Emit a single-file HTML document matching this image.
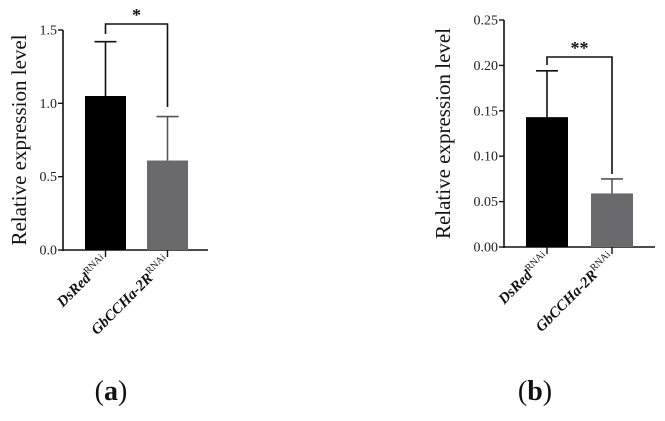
<!DOCTYPE html>
<html><head><meta charset="utf-8"><style>
html,body{margin:0;padding:0;background:#fff;width:665px;height:421px;overflow:hidden}
svg, svg text{font-family:"Liberation Serif","DejaVu Serif","Times New Roman",serif}
</style></head><body>
<svg id="chart" width="665" height="421" font-family="Liberation Serif, DejaVu Serif, serif"></svg>
<script>
const categories = ["DsRed", "GbCCHa-2R"];
const valuesA = [1.05, 0.61];
const errorsA = [1.42, 0.91];
const ticksA = [0, 0.5, 1.0, 1.5];
const tickLabelsA = ["0.0", "0.5", "1.0", "1.5"];
const valuesB = [0.143, 0.059];
const errorsB = [0.194, 0.075];
const ticksB = [0, 0.05, 0.10, 0.15, 0.20, 0.25];
const tickLabelsB = ["0.00", "0.05", "0.10", "0.15", "0.20", "0.25"];

const NS = "http://www.w3.org/2000/svg";
const svg = document.getElementById("chart");
const FF = "'Liberation Serif', 'DejaVu Serif', serif";
function mk(tag, attrs, parent){const e=document.createElementNS(NS,tag);for(const k in attrs)e.setAttribute(k,attrs[k]);if(tag==="text")e.setAttribute("style","font-family:"+FF);(parent||svg).appendChild(e);return e;}

function panel(cfg){
  const g = mk("g",{});
  
  
  const y = v => cfg.y0 - (v/cfg.max)*(cfg.y0-cfg.yTop);
  const ya = mk("line",{x1:cfg.ax,y1:y(cfg.max),x2:cfg.ax,y2:cfg.y0+1,stroke:"#111","stroke-width":1.6},g);
  
  
  const xa = mk("line",{x1:cfg.ax,y1:cfg.y0,x2:cfg.axEnd,y2:cfg.y0,stroke:"#111","stroke-width":1.6},g);
  
  
  cfg.ticks.forEach((t,i)=>{
    mk("line",{x1:cfg.ax-5,y1:y(t),x2:cfg.ax,y2:y(t),stroke:"#111","stroke-width":1.4},g);
    const tl = mk("text",{x:cfg.ax-6,y:y(t)+4.5,"text-anchor":"end","font-size":14,fill:"#222"},g);
    tl.textContent = cfg.tickLabels[i];
    
    
  });
  const yt = mk("text",{transform:`translate(${cfg.titleX},${(cfg.y0+cfg.yTop)/2+cfg.titleDy}) rotate(-90)`,"text-anchor":"middle","font-size":21,fill:"#111"},g);
  yt.textContent = "Relative expression level";
  
  
  const centers=[];
  cfg.values.forEach((v,i)=>{
    const x0 = cfg.barX[i], cx = x0+cfg.barW/2; centers.push(cx);
    const eb = mk("line",{x1:cx,y1:y(cfg.errors[i]),x2:cx,y2:y(v),stroke:i?"#555":"#111","stroke-width":1.6},g);
    
    
    mk("line",{x1:cx-11,y1:y(cfg.errors[i]),x2:cx+11,y2:y(cfg.errors[i]),stroke:i?"#555":"#111","stroke-width":1.6},g);
    const b = mk("rect",{x:x0,y:y(v),width:cfg.barW,height:cfg.y0-y(v),fill:i?"#6a6a6c":"#000"},g);
    
    
    mk("line",{x1:cx,y1:cfg.y0,x2:cx,y2:cfg.y0+7,stroke:"#111","stroke-width":1.4},g);
    const lab = mk("text",{transform:`translate(${cx+3},${cfg.y0+12}) rotate(-45)`,"text-anchor":"end","font-size":15,"font-weight":"bold","font-style":"italic",fill:"#111"},g);
    
    
    lab.appendChild(document.createTextNode(categories[i]));
    const s = mk("tspan",{"font-size":10,"font-style":"normal","font-weight":"normal",dy:-6},lab);
    s.textContent="RNAi";
  });
  const br = mk("path",{d:`M${centers[0]},${cfg.bl} V${cfg.by} H${centers[1]} V${cfg.br}`,fill:"none",stroke:"#111","stroke-width":1.6},g);
  
  
  const st = mk("text",{x:(centers[0]+centers[1])/2,y:cfg.by-3,"text-anchor":"middle","font-size":18,"font-weight":"bold",fill:"#111"},g);
  st.textContent = cfg.stars;
  
  
  const pl = mk("text",{x:cfg.labelX,y:400,"text-anchor":"middle","font-size":28,fill:"#111"},g);
  
  
  pl.appendChild(document.createTextNode("("));
  const bb = mk("tspan",{"font-weight":"bold"},pl); bb.textContent=cfg.letter;
  pl.appendChild(document.createTextNode(")"));
}

panel({name:"panel-a",ax:63,axEnd:208,y0:250,yTop:30,max:1.5,ticks:ticksA,tickLabels:tickLabelsA,
  values:valuesA,errors:errorsA,barX:[85,147],barW:41,titleX:26,titleDy:0,
  by:24,bl:34,br:107,stars:"*",labelX:111,letter:"a"});
panel({name:"panel-b",ax:504,axEnd:655,y0:247,yTop:20,max:0.25,ticks:ticksB,tickLabels:tickLabelsB,
  values:valuesB,errors:errorsB,barX:[526,591],barW:42,titleX:450,titleDy:0,
  by:57,bl:65,br:174,stars:"**",labelX:535,letter:"b"});
</script>
</body></html>
